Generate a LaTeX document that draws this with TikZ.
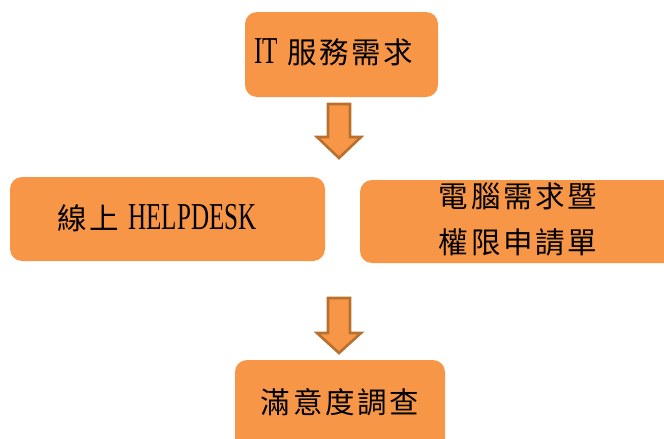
\documentclass[tikz,border=0pt]{standalone}
\usepackage{fontspec}
\newfontfamily\cjk[LetterSpace=9]{Noto Sans CJK TC}
\newfontfamily\lat[FakeStretch=0.66]{Liberation Serif}
\definecolor{boxfill}{HTML}{F79646}
\definecolor{arrline}{HTML}{B8702F}
\tikzset{
  box/.style={fill=boxfill, rounded corners=12pt},
  blockarrow/.style={fill=boxfill, draw=arrline, line width=2.6pt, line join=miter},
  cjktext/.style={font=\cjk\fontsize{29.5}{34}\selectfont, inner sep=0pt, align=center},
}
\begin{document}
\begin{tikzpicture}[x=1pt,y=-1pt]
\useasboundingbox (0,0) rectangle (664,439);
\clip (0,0) rectangle (664,439);
% boxes
\fill[box] (245,12) rectangle (438,97);
\fill[box] (10,177) rectangle (325,261);
\fill[box] (360,180) rectangle (680,263);
\fill[box] (235,360) rectangle (445,460);
% texts
\node[cjktext] (t1) at (334,52) {{\lat\fontsize{38}{42}\selectfont IT} 服務需求};
\node[cjktext] (t2) at (157,218) {線上 {\lat\fontsize{38}{42}\selectfont HELPDESK}};
\node[cjktext] (t3a) at (518,196) {電腦需求暨};
\node[cjktext] (t3b) at (518,242) {權限申請單};
\node[cjktext] (t4) at (340,402) {滿意度調查};
% block arrows
\coordinate (a1) at (339,104);
\draw[blockarrow] (a1) ++(-11,0) -- ++(22,0) -- ++(0,33) -- ++(11,0) -- ++(-22,21) -- ++(-22,-21) -- ++(11,0) -- cycle;
\coordinate (a2) at (339,298);
\draw[blockarrow] (a2) ++(-11,0) -- ++(22,0) -- ++(0,35) -- ++(11,0) -- ++(-22,20) -- ++(-22,-20) -- ++(11,0) -- cycle;
\end{tikzpicture}
\end{document}
